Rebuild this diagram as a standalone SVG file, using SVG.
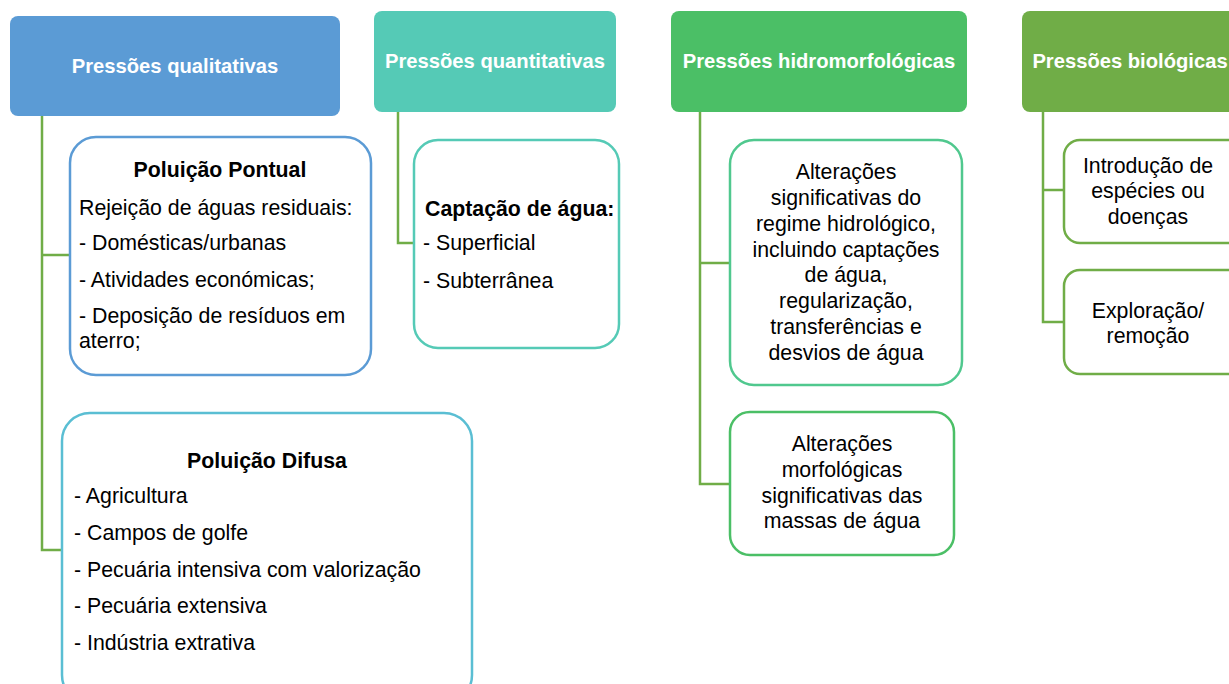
<svg xmlns="http://www.w3.org/2000/svg" width="1229" height="684" viewBox="0 0 1229 684">
<style>
.hd{font-family:"Liberation Sans",Arial,sans-serif;font-size:20.2px;font-weight:bold;fill:#fff;text-anchor:middle}
.t{font-family:"Liberation Sans",Arial,sans-serif;font-size:21.3px;fill:#000}
.b{font-weight:bold}
.c{text-anchor:middle}
.box{fill:#fff;stroke-width:2.5}
.conn{fill:none;stroke:#70AD47;stroke-width:2.5}
</style>
<rect width="1229" height="684" fill="#fff"/>
<g id="connectors" class="conn">
<path d="M42 116V550H62M42 255H70"/>
<path d="M398 112V243H414"/>
<path d="M700 112V484H730M700 263H730"/>
<path d="M1043 112V322H1064M1043 190H1064"/>
</g>
<g id="h-qualitativas"><rect x="10" y="16" width="330" height="100" rx="8" fill="#5B9BD5"/><text class="hd" x="175" y="73">Pressões qualitativas</text></g>
<g id="h-quantitativas"><rect x="374" y="11" width="242" height="101" rx="8" fill="#55CAB6"/><text class="hd" x="495" y="68">Pressões quantitativas</text></g>
<g id="h-hidro"><rect x="671" y="11" width="296" height="101" rx="8" fill="#4BBF66"/><text class="hd" x="819" y="68">Pressões hidromorfológicas</text></g>
<g id="h-bio"><rect x="1022" y="11" width="230" height="101" rx="8" fill="#70AD47"/><text class="hd" x="1130" y="68">Pressões biológicas</text></g>
<g id="pontual"><rect class="box" x="70" y="137" width="301" height="238" rx="26" stroke="#5B9BD5"/>
<text class="t b c" x="220" y="177">Poluição Pontual</text>
<text class="t" x="79" y="215">Rejeição de águas residuais:</text>
<text class="t" x="79" y="250">- Domésticas/urbanas</text>
<text class="t" x="79" y="287">- Atividades económicas;</text>
<text class="t" x="79" y="323">- Deposição de resíduos em</text>
<text class="t" x="79" y="348">aterro;</text></g>
<g id="difusa"><rect class="box" x="62" y="413" width="410" height="290" rx="28" stroke="#5ABED3"/>
<text class="t b c" x="267" y="468">Poluição Difusa</text>
<text class="t" x="74" y="503">- Agricultura</text>
<text class="t" x="74" y="540">- Campos de golfe</text>
<text class="t" x="74" y="577">- Pecuária intensiva com valorização</text>
<text class="t" x="74" y="613">- Pecuária extensiva</text>
<text class="t" x="74" y="650">- Indústria extrativa</text></g>
<g id="captacao"><rect class="box" x="414" y="140" width="205" height="208" rx="24" stroke="#55CAB6"/>
<text class="t b" x="425" y="216">Captação de água:</text>
<text class="t" x="423" y="250">- Superficial</text>
<text class="t" x="423" y="288">- Subterrânea</text></g>
<g id="hidro1"><rect class="box" x="730" y="140" width="232" height="245" rx="24" stroke="#50C88E"/>
<text class="t c" x="846" y="179">Alterações</text>
<text class="t c" x="846" y="205">significativas do</text>
<text class="t c" x="846" y="231">regime hidrológico,</text>
<text class="t c" x="846" y="257">incluindo captações</text>
<text class="t c" x="846" y="282">de água,</text>
<text class="t c" x="846" y="308">regularização,</text>
<text class="t c" x="846" y="334">transferências e</text>
<text class="t c" x="846" y="360">desvios de água</text></g>
<g id="hidro2"><rect class="box" x="730" y="412" width="224" height="143" rx="20" stroke="#4BBF66"/>
<text class="t c" x="842" y="451">Alterações</text>
<text class="t c" x="842" y="477">morfológicas</text>
<text class="t c" x="842" y="503">significativas das</text>
<text class="t c" x="842" y="528">massas de água</text></g>
<g id="bio1"><rect class="box" x="1064" y="140" width="185" height="103" rx="16" stroke="#70AD47"/>
<text class="t c" x="1148" y="173">Introdução de</text>
<text class="t c" x="1148" y="198">espécies ou</text>
<text class="t c" x="1148" y="224">doenças</text></g>
<g id="bio2"><rect class="box" x="1064" y="270" width="185" height="104" rx="16" stroke="#70AD47"/>
<text class="t c" x="1148" y="318">Exploração/</text>
<text class="t c" x="1148" y="343">remoção</text></g>
</svg>
